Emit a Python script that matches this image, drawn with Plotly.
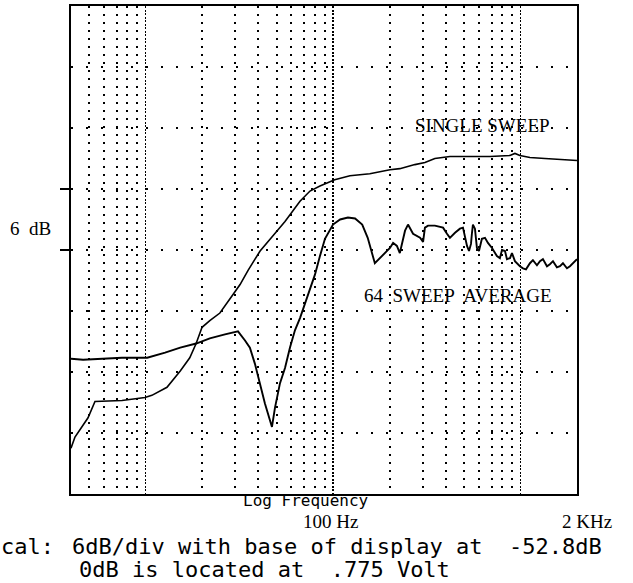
import math
import plotly.graph_objects as go

# ---- data ----
single_freq = [4.0, 4.2, 4.93, 5.37, 7.48, 9.92, 10.8, 13.0, 15.3, 17.2, 18.6, 20.0, 22.0, 24.9,
               29.2, 31.9, 35.2, 40.8, 47.8, 55.4, 66.6, 75.3, 85.1, 102, 123, 157, 201, 227,
               273, 309, 349, 420, 537, 687, 878, 933, 992, 1122, 1349, 1622, 1999]
single_db = [-48.3, -47.2, -45.3, -43.7, -43.6, -43.3, -43.1, -42.3, -40.7, -39.4, -38.0, -36.4, -35.75, -35.0,
             -33.2, -32.2, -30.8, -28.9, -27.4, -26.0, -24.0, -23.0, -22.5, -21.9, -21.5, -21.3, -20.9, -20.8,
             -20.4, -20.2, -19.8, -19.6, -19.6, -19.6, -19.5, -19.3, -19.5, -19.7, -19.8, -19.9, -20.0]

avg_freq = [4.0, 4.64, 7.48, 10.2, 12.7, 15.3, 18.6, 22.0, 26.5, 31.1, 33.9, 36.0, 38.3, 40.8, 43.3, 47.2,
            49.0, 52.1, 55.4, 58.9, 62.6, 66.6, 70.8, 75.3, 80.1, 85.1, 90.5, 99.9, 109, 120, 131, 143,
            153, 167, 189, 201, 209, 219, 227, 242, 251, 267, 291, 302, 309, 321, 349, 386, 405, 420,
            447, 475, 493, 505, 518, 531, 544, 550, 557, 571, 585, 600, 622, 646, 670, 704, 730, 748,
            776, 796, 826, 846, 878, 900, 933, 956, 992, 1030, 1069, 1122, 1164, 1223, 1269, 1316,
            1383, 1434, 1489, 1563, 1622, 1683, 1768, 1834, 1903, 1999]
avg_db = [-39.5, -39.6, -39.4, -39.4, -38.9, -38.4, -38.0, -37.5, -37.1, -36.8, -37.7, -38.4, -40.0, -41.9, -43.9, -46.2,
          -44.3, -41.9, -40.4, -38.4, -36.7, -35.5, -34.1, -32.8, -31.2, -29.4, -27.7, -26.3, -25.8, -25.6, -25.7, -26.3,
          -27.6, -30.1, -29.1, -28.6, -28.1, -28.4, -29.1, -26.9, -26.3, -27.2, -27.6, -28.0, -26.6, -26.4, -26.4, -26.6, -27.2, -27.6,
          -27.1, -26.7, -26.6, -27.4, -28.4, -28.9, -28.2, -27.2, -26.3, -26.7, -28.6, -28.9, -27.7, -27.6, -28.1, -28.6, -29.1, -29.4,
          -29.6, -28.8, -28.9, -29.7, -29.6, -29.1, -29.9, -30.1, -30.4, -30.6, -30.7, -30.1, -29.8, -30.3, -29.9, -29.7,
          -30.4, -30.2, -29.9, -30.5, -30.4, -30.1, -30.6, -30.4, -30.1, -29.7]

freq_range = [4, 2000]
db_base = -52.8
db_per_div = 6
n_div = 8
decade_lines = [10, 100, 1000]
minor_lines = [5, 6, 7, 8, 9, 20, 30, 40, 50, 60, 70, 80, 90, 200, 300, 400, 500, 600, 700, 800, 900]
div_lines = [db_base + db_per_div * i for i in range(1, n_div)]
marked_ticks = [-28.8, -22.8]

fig = go.Figure()
fig.add_trace(go.Scatter(x=single_freq, y=single_db, mode="lines",
                         line=dict(color="black", width=1.6), showlegend=False))
fig.add_trace(go.Scatter(x=avg_freq, y=avg_db, mode="lines",
                         line=dict(color="black", width=1.9), showlegend=False))

serif = "Liberation Serif"
mono = "DejaVu Sans Mono"

fig.update_layout(
    width=633, height=583,
    margin=dict(l=71, r=56, t=4, b=89),
    paper_bgcolor="white", plot_bgcolor="white",
    xaxis=dict(type="log", range=[math.log10(freq_range[0]), math.log10(freq_range[1])],
               tickmode="array", tickvals=decade_lines, showticklabels=False, ticks="",
               showgrid=True, gridcolor="black", gridwidth=1.5, griddash="2px,1.5px",
               minor=dict(tickmode="array", tickvals=minor_lines, showgrid=True,
                          gridcolor="black", gridwidth=2, griddash="2px,6px", ticks=""),
               showline=True, linecolor="black", linewidth=2, mirror=True, zeroline=False),
    yaxis=dict(range=[db_base, db_base + db_per_div * n_div],
               tickmode="array", tickvals=marked_ticks, showticklabels=False,
               ticks="outside", ticklen=9, tickwidth=2, tickcolor="black",
               showgrid=True, gridcolor="black", gridwidth=2, griddash="2px,13px",
               minor=dict(tickmode="array", tickvals=div_lines, showgrid=True,
                          gridcolor="black", gridwidth=2, griddash="2px,13px", ticks=""),
               showline=True, linecolor="black", linewidth=2, mirror=True, zeroline=False),
    hovermode=False,
)

anns = [
    dict(text="SINGLE SWEEP", x=math.log10(630), y=-16.55, xref="x", yref="y",
         font=dict(family=serif, size=19, color="black")),
    dict(text="64\u00a0 SWEEP\u00a0 AVERAGE", x=math.log10(464), y=-33.3, xref="x", yref="y",
         font=dict(family=serif, size=19, color="black")),
    dict(text="6\u00a0 dB", x=-0.081, y=0.545, xref="paper", yref="paper",
         font=dict(family=serif, size=19, color="black")),
    dict(text="Log Frequency", x=0.4644, y=-0.0143, xref="paper", yref="paper",
         font=dict(family=mono, size=16, color="black")),
    dict(text="100 Hz", x=0.512, y=-0.0571, xref="paper", yref="paper",
         font=dict(family=serif, size=19, color="black")),
    dict(text="2 KHz", x=1.02, y=-0.0571, xref="paper", yref="paper",
         font=dict(family=serif, size=19, color="black")),
    dict(text="cal:", x=-0.1403, y=-0.108, xref="paper", yref="paper", xanchor="left",
         font=dict(family=mono, size=22, color="black")),
    dict(text="6dB/div with base of display at\u00a0 -52.8dB", x=0.0, y=-0.108, xref="paper", yref="paper",
         xanchor="left", font=dict(family=mono, size=22, color="black")),
    dict(text="0dB is located at\u00a0 .775 Volt", x=0.0138, y=-0.155, xref="paper", yref="paper",
         xanchor="left", font=dict(family=mono, size=22, color="black")),
]
for a in anns:
    a.setdefault("xanchor", "center")
    a["yanchor"] = "middle"
    a["showarrow"] = False
    a["borderpad"] = 0
    fig.add_annotation(**a)

fig.write_html("out.html", config={"displayModeBar": False, "staticPlot": True},
               post_script="document.body.style.margin='0';document.body.style.overflow='hidden';")
